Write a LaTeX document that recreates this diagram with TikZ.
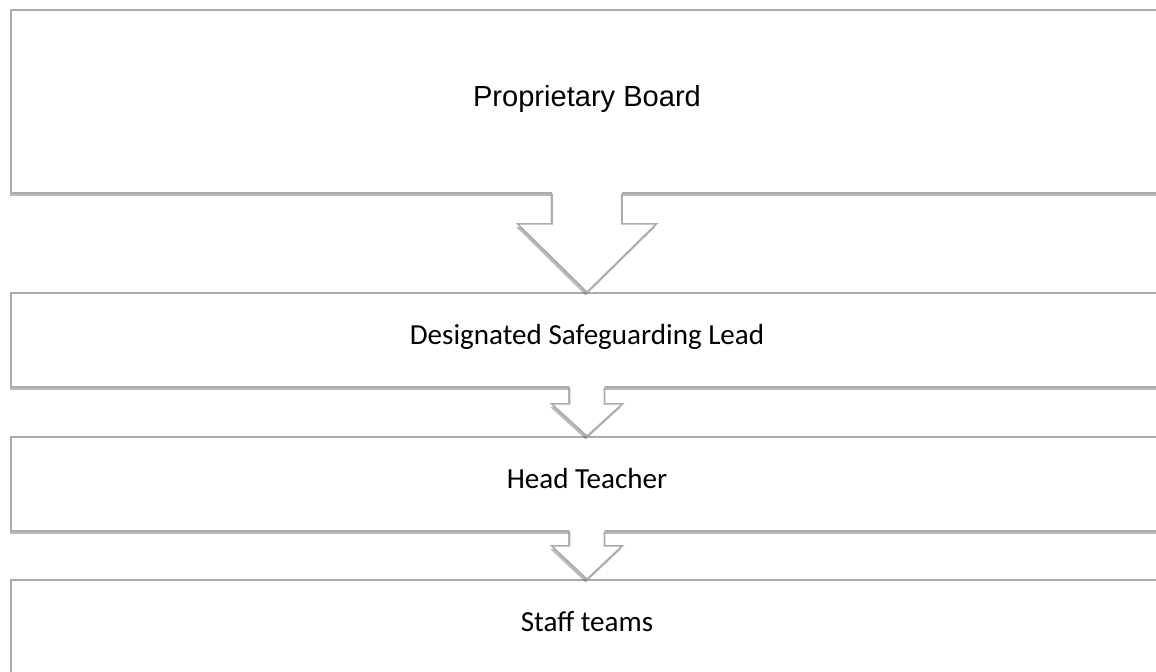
\documentclass[tikz,border=0pt]{standalone}
\usepackage{fontspec}
\setmainfont{Carlito}
\newfontfamily\arialfont{Liberation Sans}
\usetikzlibrary{calc,shadows}
\begin{document}
\begin{tikzpicture}[x=0.75pt,y=-0.75pt,
  shad/.style={drop shadow={shadow xshift=-1pt,shadow yshift=-2.4pt,opacity=0.38,fill=black!70}},
  boxst/.style={rectangle, draw=gray!66, line width=1.2pt, fill=white, shad,
    minimum width={1152*0.75pt}, inner sep=0pt, font=\fontsize{21.8pt}{26pt}\selectfont,
    text height=0.644em, text depth=0pt},
  arrfill/.style={fill=white, shad},
  arredge/.style={draw=gray!66, line width=1.2pt, line join=miter}
]
\useasboundingbox (0,0) rectangle (1156,671);
\clip (0,0) rectangle (1156,671);
\node[boxst, minimum height={183*0.75pt}, font=\arialfont\fontsize{21.8pt}{26pt}\selectfont, text height=0.716em] (b1) at (587,101.5) {Proprietary Board};
\node[boxst, minimum height={94*0.75pt}] (b2) at (587,340) {Designated Safeguarding Lead};
\node[boxst, minimum height={94*0.75pt}] (b3) at (587,484) {Head Teacher};
\node[boxst, minimum height={94*0.75pt}] (b4) at (587,627) {Staff teams};
% arrow 1
\path[arrfill] ($(b1.south)+(-35,-2)$) -- ($(b1.south)+(-35,30)$) -- ($(b1.south)+(-69.5,30)$) -- (b2.north) -- ($(b1.south)+(69.5,30)$) -- ($(b1.south)+(35,30)$) -- ($(b1.south)+(35,-2)$) -- cycle;
\draw[arredge] ($(b1.south)+(-35,0)$) -- ($(b1.south)+(-35,30)$) -- ($(b1.south)+(-69.5,30)$) -- (b2.north) -- ($(b1.south)+(69.5,30)$) -- ($(b1.south)+(35,30)$) -- ($(b1.south)+(35,0)$);
% arrow 2
\path[arrfill] ($(b2.south)+(-17.5,-2)$) -- ($(b2.south)+(-17.5,16)$) -- ($(b2.south)+(-35.5,16)$) -- (b3.north) -- ($(b2.south)+(35.5,16)$) -- ($(b2.south)+(17.5,16)$) -- ($(b2.south)+(17.5,-2)$) -- cycle;
\draw[arredge] ($(b2.south)+(-17.5,0)$) -- ($(b2.south)+(-17.5,16)$) -- ($(b2.south)+(-35.5,16)$) -- (b3.north) -- ($(b2.south)+(35.5,16)$) -- ($(b2.south)+(17.5,16)$) -- ($(b2.south)+(17.5,0)$);
% arrow 3
\path[arrfill] ($(b3.south)+(-17.5,-2)$) -- ($(b3.south)+(-17.5,14)$) -- ($(b3.south)+(-35.5,14)$) -- (b4.north) -- ($(b3.south)+(35.5,14)$) -- ($(b3.south)+(17.5,14)$) -- ($(b3.south)+(17.5,-2)$) -- cycle;
\draw[arredge] ($(b3.south)+(-17.5,0)$) -- ($(b3.south)+(-17.5,14)$) -- ($(b3.south)+(-35.5,14)$) -- (b4.north) -- ($(b3.south)+(35.5,14)$) -- ($(b3.south)+(17.5,14)$) -- ($(b3.south)+(17.5,0)$);
\end{tikzpicture}
\end{document}
